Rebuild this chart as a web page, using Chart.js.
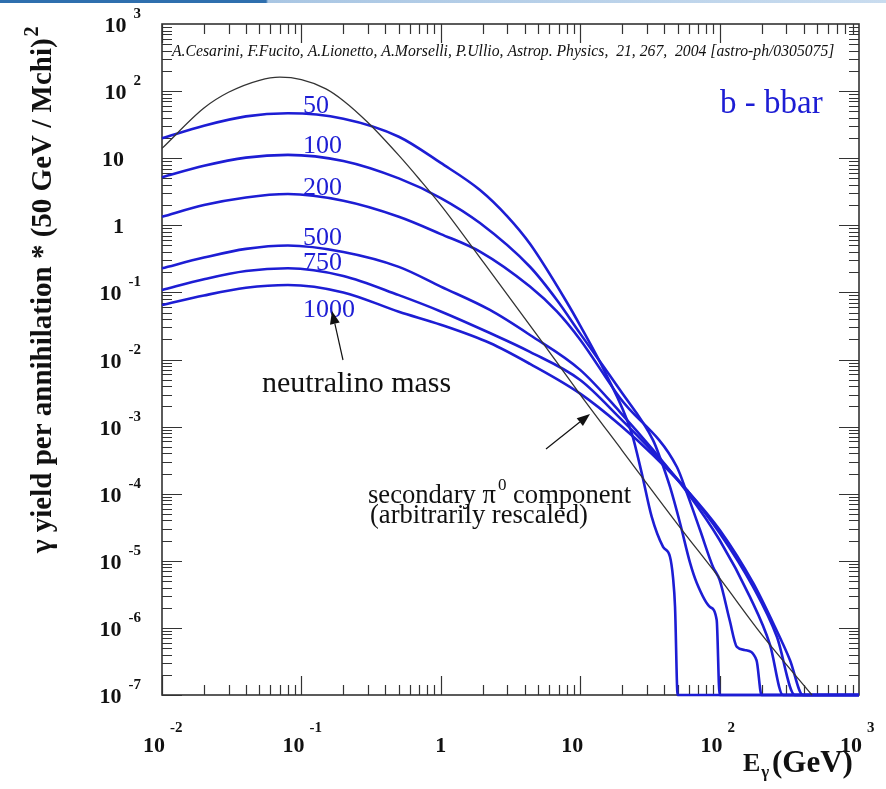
<!DOCTYPE html>
<html lang="en">
<head>
<meta charset="UTF-8">
<title>b - bbar gamma yield</title>
<script src="https://cdn.jsdelivr.net/npm/chart.js@4.4.0/dist/chart.umd.min.js"></script>
<style>
    html, body { margin: 0; padding: 0; background: #fff; }
    .topbar {
        position: absolute; left: 0; top: 0; width: 886px; height: 3px;
        background: linear-gradient(to right, #2f6fae 0, #2f6fae 266px, #a9c6e3 268px, #c9dcef 100%);
    }
    canvas { display: block; }
</style>
</head>
<body>
<div class="topbar"></div>
<canvas id="chart" width="886" height="789"></canvas>
<script>
// photon energy (GeV) and yield for each neutralino mass, b-bbar channel
const e50 = [0.01, 0.02, 0.04, 0.08, 0.2, 0.5, 1, 1.91, 3, 4.36, 8, 10, 15, 23.4, 27.6, 32.6, 39.3, 44.1, 46.3, 47.9, 50, 1000];
const y50 = [19.8, 30.5, 42, 46.7, 38.8, 20.9, 8.5, 3.36, 1.36, 0.53, 0.072, 0.032, 6.6e-3, 8.0e-4, 2.04e-4, 4.5e-5, 1.61e-5, 1.14e-5, 5.7e-6, 2.05e-6, 1e-7, 1e-7];

const e100 = [0.01, 0.02, 0.04, 0.08, 0.2, 0.5, 1, 1.91, 4.36, 6.8, 10, 19.3, 33.3, 37.3, 44.1, 52, 61.4, 68.6, 85.4, 95.3, 100, 1000];
const y100 = [5.2, 7.7, 10.2, 11.2, 9.1, 5.0, 2.55, 1.08, 0.241, 0.077, 0.0243, 3.5e-3, 6.3e-4, 3.5e-4, 1.26e-4, 3.66e-5, 9.3e-6, 4.67e-6, 2.05e-6, 1.31e-6, 1e-7, 1e-7];

const e200 = [0.01, 0.02, 0.04, 0.08, 0.2, 0.5, 1, 1.91, 4.36, 6.8, 10, 19.3, 49.4, 58.3, 72.3, 89.7, 100, 118, 133, 151, 184, 200, 1000];
const y200 = [1.34, 2.0, 2.6, 2.92, 2.32, 1.34, 0.74, 0.405, 0.122, 0.052, 0.0197, 2.67e-3, 2.5e-4, 1.02e-4, 2.9e-5, 8.1e-6, 5.2e-6, 1.31e-6, 5.2e-7, 4.7e-7, 3.3e-7, 1e-7, 1e-7];

const e500 = [0.01, 0.02, 0.04, 0.08, 0.2, 0.5, 1, 2.25, 4.36, 10, 19.3, 33.3, 58.3, 100, 165, 230, 285, 1000];
const y500 = [0.229, 0.33, 0.445, 0.50, 0.40, 0.24, 0.122, 0.0547, 0.0232, 7.0e-3, 1.65e-3, 4.5e-4, 1.06e-4, 2.04e-5, 2.9e-6, 5.6e-7, 1e-7, 1e-7];

const e750 = [0.01, 0.02, 0.04, 0.08, 0.2, 0.5, 1, 2.25, 4.36, 10, 19.3, 33.3, 58.3, 100, 174, 258, 347, 1000];
const y750 = [0.109, 0.157, 0.208, 0.229, 0.176, 0.091, 0.052, 0.0248, 0.013, 4.95e-3, 1.34e-3, 4.18e-4, 1.13e-4, 2.6e-5, 4.07e-6, 7.3e-7, 1e-7, 1e-7];

const e1000 = [0.01, 0.02, 0.04, 0.08, 0.2, 0.5, 1, 2.25, 4.36, 10, 19.3, 33.3, 58.3, 100, 174, 242, 320, 396, 1000];
const y1000 = [0.065, 0.09, 0.117, 0.129, 0.1, 0.0515, 0.033, 0.0176, 8.6e-3, 3.1e-3, 1.06e-3, 3.78e-4, 1.13e-4, 2.9e-5, 4.67e-6, 1.18e-6, 3.3e-7, 1e-7, 1e-7];

// secondary pi0 component (arbitrarily rescaled)
const ePi0 = [0.01, 0.02, 0.03, 0.05, 0.07, 0.1, 0.15, 0.2, 0.3, 0.5, 0.7, 1, 2, 5, 10, 20, 50, 100, 200, 460];
const yPi0 = [14, 56, 96, 145, 161, 148, 108, 72, 34, 11, 4.9, 2.0, 0.29, 0.022, 3.0e-3, 4.4e-4, 3.5e-5, 5.5e-6, 8e-7, 1e-7];

// axis decades
const xDecades = [-2, -1, 0, 1, 2, 3];
const yDecades = [-7, -6, -5, -4, -3, -2, -1, 0, 1, 2, 3];

const BLUE = '#1d1dd4';
const INK = '#333333';
const SERIF = '"Liberation Serif", "DejaVu Serif", serif';

function pts(xs, ys) {
    return xs.map((x, i) => ({ x: x, y: ys[i] }));
}

function blue(xs, ys) {
    return {
        data: pts(xs, ys),
        borderColor: BLUE,
        borderWidth: 2.6,
        pointRadius: 0,
        cubicInterpolationMode: 'monotone',
        clip: 3
    };
}

function drawArrow(ctx, x1, y1, x2, y2) {
    const ang = Math.atan2(y2 - y1, x2 - x1);
    const len = 13, half = 5;
    ctx.beginPath();
    ctx.moveTo(x1, y1);
    ctx.lineTo(x2 - len * Math.cos(ang), y2 - len * Math.sin(ang));
    ctx.stroke();
    ctx.beginPath();
    ctx.moveTo(x2, y2);
    ctx.lineTo(x2 - len * Math.cos(ang) + half * Math.sin(ang), y2 - len * Math.sin(ang) - half * Math.cos(ang));
    ctx.lineTo(x2 - len * Math.cos(ang) - half * Math.sin(ang), y2 - len * Math.sin(ang) + half * Math.cos(ang));
    ctx.closePath();
    ctx.fill();
}

// ROOT style frame: box with inward ticks on all four sides
const frame = {
    id: 'frame',
    beforeDatasetsDraw(chart) {
        const ctx = chart.ctx, a = chart.chartArea;
        const xs = chart.scales.x, ys = chart.scales.y;
        ctx.save();
        ctx.strokeStyle = INK;
        ctx.lineWidth = 1.2;
        ctx.beginPath();
        for (let d = -2; d <= 2; d++) {
            for (let k = 1; k <= 9; k++) {
                const p = Math.round(xs.getPixelForValue(k * Math.pow(10, d))) + 0.5;
                const L = k === 1 ? 19 : 10;
                ctx.moveTo(p, a.bottom); ctx.lineTo(p, a.bottom - L);
                ctx.moveTo(p, a.top); ctx.lineTo(p, a.top + L);
            }
        }
        for (let d = -7; d <= 2; d++) {
            for (let k = 1; k <= 9; k++) {
                const p = Math.round(ys.getPixelForValue(k * Math.pow(10, d))) + 0.5;
                const L = k === 1 ? 20 : 10;
                ctx.moveTo(a.left, p); ctx.lineTo(a.left + L, p);
                ctx.moveTo(a.right, p); ctx.lineTo(a.right - L, p);
            }
        }
        ctx.stroke();
        ctx.lineWidth = 1.6;
        ctx.strokeRect(a.left, a.top, a.right - a.left, a.bottom - a.top);
        ctx.restore();
    },
    afterDraw(chart) {
        const ctx = chart.ctx;
        const xs = chart.scales.x, ys = chart.scales.y;
        ctx.save();
        ctx.fillStyle = '#111';
        ctx.textBaseline = 'alphabetic';

        // x tick labels
        xDecades.forEach(d => {
            const p = xs.getPixelForValue(Math.pow(10, d));
            ctx.font = `bold 22px ${SERIF}`;
            ctx.textAlign = 'center';
            if (d === 0) { ctx.fillText('1', p, 752); return; }
            ctx.fillText('10', p - 8, 752);
            if (d !== 1) {
                const w = ctx.measureText('10').width;
                ctx.font = `bold 15px ${SERIF}`;
                ctx.textAlign = 'left';
                ctx.fillText(String(d), p - 8 + w / 2 + 5, 732);
            }
        });

        // y tick labels
        yDecades.forEach(d => {
            const p = ys.getPixelForValue(Math.pow(10, d));
            if (d === 0 || d === 1) {
                ctx.font = `bold 22px ${SERIF}`;
                ctx.textAlign = 'right';
                ctx.fillText(d === 0 ? '1' : '10', 124, p + 8);
                return;
            }
            ctx.font = `bold 15px ${SERIF}`;
            ctx.textAlign = 'right';
            const exp = String(d);
            ctx.fillText(exp, 141, p - 6);
            const ew = ctx.measureText(exp).width;
            ctx.font = `bold 22px ${SERIF}`;
            ctx.fillText('10', 141 - ew - 7, p + 8);
        });

        // axis titles
        ctx.textAlign = 'left';
        ctx.font = `bold 26px ${SERIF}`;
        ctx.fillText('E', 743, 771);
        let w = ctx.measureText('E').width;
        ctx.font = `bold 17px ${SERIF}`;
        ctx.fillText('\u03b3', 743 + w + 1, 777);
        ctx.font = `bold 31px ${SERIF}`;
        ctx.fillText('(GeV)', 772, 772, 86);

        ctx.save();
        ctx.translate(51, 553);
        ctx.rotate(-Math.PI / 2);
        ctx.textAlign = 'left';
        ctx.font = `bold 29px ${SERIF}`;
        const yt = '\u03b3 yield per annihilation * (50 GeV / Mchi)';
        ctx.fillText(yt, 0, 0);
        w = ctx.measureText(yt).width;
        ctx.font = `bold 20px ${SERIF}`;
        ctx.fillText('2', w + 2, -13);
        ctx.restore();

        // citation
        ctx.font = `italic 15.7px ${SERIF}`;
        ctx.textAlign = 'left';
        ctx.fillText('A.Cesarini, F.Fucito, A.Lionetto, A.Morselli, P.Ullio, Astrop. Physics,  21, 267,  2004 [astro-ph/0305075]', 172, 56, 665);

        // channel and mass labels
        ctx.fillStyle = BLUE;
        ctx.font = `33px ${SERIF}`;
        ctx.fillText('b - bbar', 720, 113);
        ctx.font = `26px ${SERIF}`;
        [['50', 113], ['100', 153], ['200', 195], ['500', 245], ['750', 270], ['1000', 317]].forEach(m => {
            ctx.fillText(m[0], 303, m[1]);
        });

        // annotations
        ctx.fillStyle = '#111';
        ctx.strokeStyle = '#111';
        ctx.lineWidth = 1.2;
        ctx.font = `30px ${SERIF}`;
        ctx.fillText('neutralino mass', 262, 392);
        drawArrow(ctx, 343, 360, 332, 311);

        ctx.font = `26.6px ${SERIF}`;
        ctx.fillText('secondary \u03c0', 368, 503);
        w = ctx.measureText('secondary \u03c0').width;
        ctx.font = `17px ${SERIF}`;
        ctx.fillText('0', 368 + w + 2, 490);
        const w0 = ctx.measureText('0').width;
        ctx.font = `26.6px ${SERIF}`;
        ctx.fillText(' component', 368 + w + 2 + w0, 503);
        ctx.fillText('(arbitrarily rescaled)', 370, 523);
        drawArrow(ctx, 546, 449, 590, 414);

        ctx.restore();
    }
};

new Chart(document.getElementById('chart'), {
    type: 'line',
    data: {
        datasets: [
            {
                data: pts(ePi0, yPi0),
                borderColor: INK,
                borderWidth: 1.3,
                pointRadius: 0,
                cubicInterpolationMode: 'monotone',
                clip: 3
            },
            blue(e50, y50),
            blue(e100, y100),
            blue(e200, y200),
            blue(e500, y500),
            blue(e750, y750),
            blue(e1000, y1000)
        ]
    },
    options: {
        responsive: false,
        animation: false,
        layout: { padding: { left: 162, top: 24, right: 27, bottom: 94 } },
        scales: {
            x: { type: 'logarithmic', min: 0.01, max: 1000, display: false },
            y: { type: 'logarithmic', min: 1e-7, max: 1000, display: false }
        },
        plugins: {
            legend: { display: false },
            tooltip: { enabled: false }
        }
    },
    plugins: [frame]
});
</script>
</body>
</html>
